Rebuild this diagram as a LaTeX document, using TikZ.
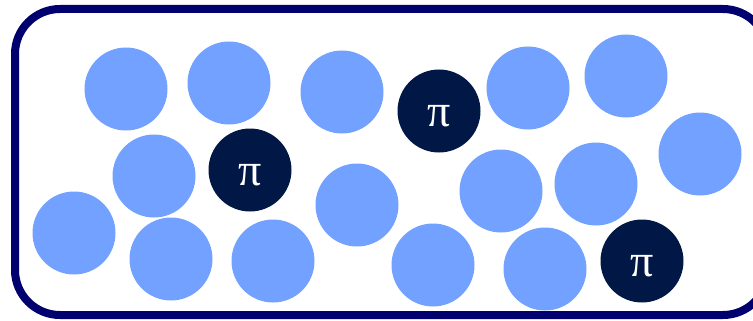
\documentclass[tikz,border=0pt]{standalone}
\usepackage{fontspec}
\setmainfont{Liberation Serif}
\definecolor{ballblue}{HTML}{72A1FF}
\definecolor{balldark}{HTML}{011745}
\definecolor{framenavy}{HTML}{00006E}
\tikzset{
  ball/.style={circle, fill=ballblue, minimum size=83pt, inner sep=0pt},
  pion/.style={circle, fill=balldark, minimum size=83pt, inner sep=0pt, text=white, font=\fontsize{46}{46}\selectfont, text height=31pt, text depth=0pt},
  frame/.style={draw=framenavy, line width=8pt, rounded corners=45pt}
}
\begin{document}
\begin{tikzpicture}[x=1pt,y=-1pt]
\useasboundingbox (0,0) rectangle (753,321);
\draw[frame] (15,9) rectangle (768,315);
\node[ball] (b1) at (126,89) {};
\node[ball] (b2) at (229,83) {};
\node[ball] (b3) at (342,92) {};
\node[pion] (p1) at (439,111) {π};
\node[ball] (b5) at (528,88) {};
\node[ball] (b6) at (626,76) {};
\node[ball] (b7) at (700,154) {};
\node[ball] (b8) at (154,176) {};
\node[pion] (p2) at (250,170) {π};
\node[ball] (b10) at (357,205) {};
\node[ball] (b11) at (501,191) {};
\node[ball] (b12) at (596,184) {};
\node[ball] (b13) at (74,233) {};
\node[ball] (b14) at (171,259) {};
\node[ball] (b15) at (273,261) {};
\node[ball] (b16) at (433,265) {};
\node[ball] (b17) at (545,269) {};
\node[pion] (p3) at (642,261) {π};
\end{tikzpicture}
\end{document}
